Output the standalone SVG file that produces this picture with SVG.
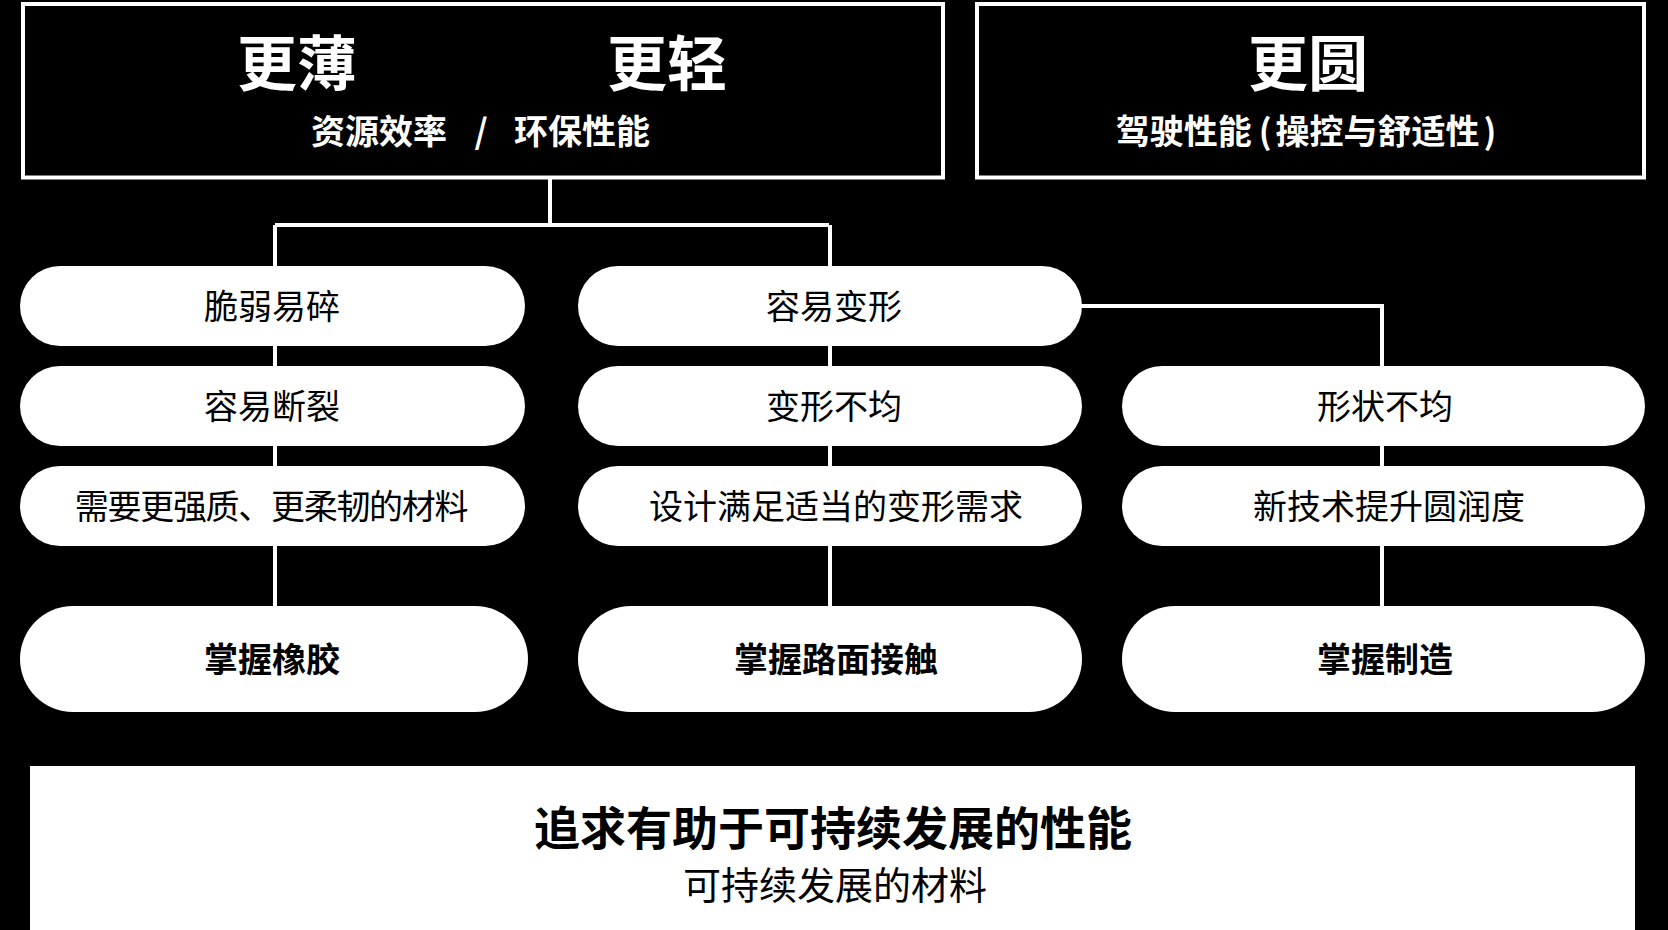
<svg xmlns="http://www.w3.org/2000/svg" width="1668" height="930" viewBox="0 0 1668 930">
<style>
.box{fill:#000;stroke:#fff;stroke-width:4}
.pill{fill:#fff}
.conn{stroke:#fff;stroke-width:4;fill:none}
text{font-family:"Noto Sans CJK SC","Noto Sans",sans-serif;text-anchor:middle}
.h1{font-size:60px;font-weight:700;fill:#fff}
.h2{font-size:34px;font-weight:700;fill:#fff}
.t{font-size:34px;font-weight:400;fill:#000}
.tb{font-size:34px;font-weight:700;fill:#000}
.f1{font-size:46px;font-weight:700;fill:#000}
.f2{font-size:38px;font-weight:400;fill:#000}
</style>
<rect x="0" y="0" width="1668" height="930" fill="#000"/>
<g id="connectors">
<path class="conn" d="M550 179 V225 M275 225 H829 M275 225 V606 M830 225 V606 M1081 306 H1382 V606"/>
</g>
<g id="head-left">
<rect class="box" x="23" y="4" width="920" height="173.5"/>
<text class="h1" x="297" y="86">更薄</text>
<text class="h1" x="667" y="86">更轻</text>
<text class="h2" x="447" y="144" style="text-anchor:end">资源效率</text>
<text class="h2" x="481" y="144">/</text>
<text class="h2" x="514" y="144" style="text-anchor:start">环保性能</text>
</g>
<g id="head-right">
<rect class="box" x="977" y="4" width="667" height="173.5"/>
<text class="h1" x="1308" y="86">更圆</text>
<text class="h2" x="1306" y="144">驾驶性能<tspan dx="7">(</tspan><tspan dx="4">操控与舒适性</tspan><tspan dx="4">)</tspan></text>
</g>
<g id="n-l1"><rect class="pill" x="20" y="266" width="505" height="80" rx="40"/><text class="t" x="272" y="319">脆弱易碎</text></g>
<g id="n-l2"><rect class="pill" x="20" y="366" width="505" height="80" rx="40"/><text class="t" x="272" y="419">容易断裂</text></g>
<g id="n-l3"><rect class="pill" x="20" y="466" width="505" height="80" rx="40"/><text class="t" x="271" y="519" style="letter-spacing:-1.3px">需要更强质、更柔韧的材料</text></g>
<g id="n-l4"><rect class="pill" x="20" y="606" width="508" height="106" rx="53"/><text class="tb" x="272" y="672">掌握橡胶</text></g>
<g id="n-m1"><rect class="pill" x="578" y="266" width="504" height="80" rx="40"/><text class="t" x="834" y="319">容易变形</text></g>
<g id="n-m2"><rect class="pill" x="578" y="366" width="504" height="80" rx="40"/><text class="t" x="834" y="419">变形不均</text></g>
<g id="n-m3"><rect class="pill" x="578" y="466" width="504" height="80" rx="40"/><text class="t" x="836" y="519">设计满足适当的变形需求</text></g>
<g id="n-m4"><rect class="pill" x="578" y="606" width="504" height="106" rx="53"/><text class="tb" x="836" y="672">掌握路面接触</text></g>
<g id="n-r2"><rect class="pill" x="1122" y="366" width="523" height="80" rx="40"/><text class="t" x="1385" y="419">形状不均</text></g>
<g id="n-r3"><rect class="pill" x="1122" y="466" width="523" height="80" rx="40"/><text class="t" x="1389" y="519">新技术提升圆润度</text></g>
<g id="n-r4"><rect class="pill" x="1122" y="606" width="523" height="106" rx="53"/><text class="tb" x="1385" y="672">掌握制造</text></g>
<g id="footer">
<rect x="30" y="766" width="1605" height="164" fill="#fff"/>
<text class="f1" x="833" y="845">追求有助于可持续发展的性能</text>
<text class="f2" x="835" y="899">可持续发展的材料</text>
</g>
</svg>
